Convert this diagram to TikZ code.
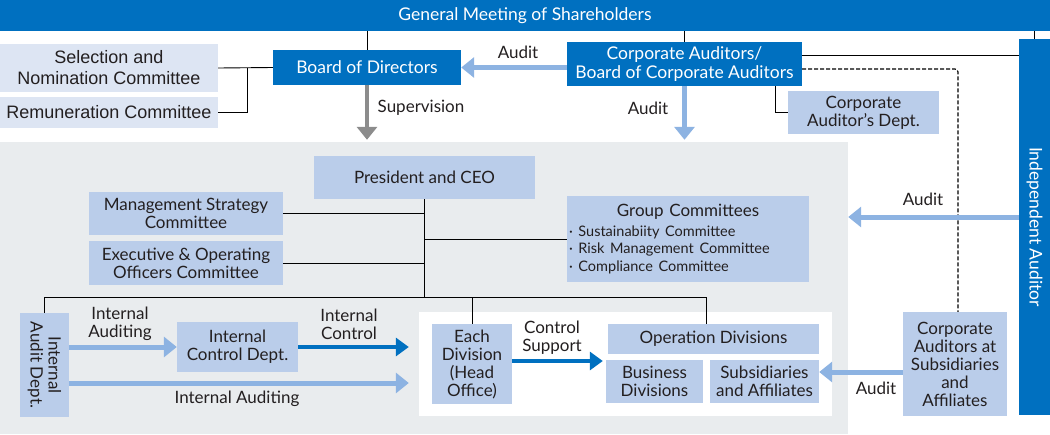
\documentclass[tikz,border=0pt]{standalone}
\usepackage{fontspec}
\setmainfont{Lato}
\newfontfamily\arialfont{Liberation Sans}
\usepackage{tikz}
\usetikzlibrary{arrows.meta}
\definecolor{darkblue}{HTML}{0070C0}
\definecolor{boxblue}{HTML}{BACDEA}
\definecolor{paleblue}{HTML}{DDE5F3}
\definecolor{arrowblue}{HTML}{8DB3E2}
\definecolor{bggray}{HTML}{E9ECEE}
\definecolor{arrowgray}{HTML}{8C8C8C}
\definecolor{textblack}{HTML}{231F20}
\begin{document}
\begin{tikzpicture}[x=1pt,y=-1pt,
  every node/.style={inner sep=0pt,font=\fontsize{17}{18}\selectfont,text=textblack,align=center},
  darkbox/.style={rectangle,fill=darkblue,text=white,font=\fontsize{17.5}{18.5}\selectfont},
  lightbox/.style={rectangle,fill=boxblue},
  palebox/.style={rectangle,fill=paleblue,font=\arialfont\fontsize{18}{21}\selectfont},
  link/.style={line width=0.9pt,black},
  auditarrow/.style={line width=5pt,arrowblue,-{Triangle[width=20pt,length=13pt]}},
  ctrlarrow/.style={line width=4pt,darkblue,-{Triangle[width=18pt,length=13pt]}},
  superarrow/.style={line width=4pt,arrowgray,-{Triangle[width=20pt,length=13pt]}}]
\useasboundingbox (0,0) rectangle (1050,434);
%
\node[fill=bggray,minimum width=848pt,minimum height=292pt] (bg) at (424,288) {};
\node[fill=white,minimum width=413pt,minimum height=104pt] (wb) at (625.5,364) {};
%
\node[darkbox,minimum width=1050pt,minimum height=31pt] (gm) at (525,15.5) {General Meeting of Shareholders};
\node[palebox,minimum width=218pt,minimum height=48pt] (snc) at (109,68) {Selection and\\Nomination Committee};
\node[palebox,minimum width=218pt,minimum height=31pt] (rc) at (109,112.5) {Remuneration Committee};
\node[darkbox,minimum width=188pt,minimum height=35pt] (bod) at (367,67.5) {Board of Directors};
\node[darkbox,minimum width=235pt,minimum height=44pt] (cab) at (684.5,64) {Corporate Auditors/\\Board of Corporate Auditors};
\node[lightbox,minimum width=151pt,minimum height=43pt] (cad) at (863.5,112.5) {Corporate\\Auditor’s Dept.};
\node[darkbox,minimum width=31pt,minimum height=376pt,
  label={[rotate=-90,text=white,font=\fontsize{17.5}{18}\selectfont]center:Independent Auditor}] (ia) at (1034.5,227) {};
%
\node[lightbox,minimum width=221pt,minimum height=43pt] (ceo) at (424.5,177.5) {President and CEO};
\node[lightbox,minimum width=194pt,minimum height=43pt] (msc) at (186,213.5) {Management Strategy\\Committee};
\node[lightbox,minimum width=194pt,minimum height=44pt] (eoc) at (186,263) {Executive \& Operating\\Officers Committee};
\node[lightbox,minimum width=242pt,minimum height=86pt,align=left,text width=238pt] (gc) at (688,239)
  {\makebox[\linewidth]{Group Committees}\\[3pt]
   {\fontsize{14.5}{17}\selectfont · Sustainabiity Committee\\
   · Risk Management Committee\\
   · Compliance Committee}};
%
\node[lightbox,minimum width=49pt,minimum height=104pt,
  label={[rotate=-90]center:Internal\\Audit Dept.}] (iad) at (44.5,365) {};
\node[lightbox,minimum width=121pt,minimum height=50pt] (icd) at (237.5,347) {Internal\\Control Dept.};
\node[lightbox,minimum width=80pt,minimum height=80pt] (ed) at (472,364) {Each\\Division\\(Head\\Office)};
\node[lightbox,minimum width=211pt,minimum height=30pt] (opd) at (713.5,339) {Operation Divisions};
\node[lightbox,minimum width=97pt,minimum height=43pt] (bd) at (654.5,381.5) {Business\\Divisions};
\node[lightbox,minimum width=109pt,minimum height=43pt] (sa) at (764.5,381.5) {Subsidiaries\\and Affiliates};
\node[lightbox,minimum width=104pt,minimum height=104pt] (casa) at (955,364) {Corporate\\Auditors at\\Subsidiaries\\and\\Affiliates};
%
\node (lauditbod) at (518,52) {Audit};
\node (lsuper) at (421,108) {Supervision};
\node (lauditceo) at (648,108) {Audit};
\node (lauditia) at (923,199) {Audit};
\node (linaud) at (120,324) {Internal\\Auditing};
\node (linctl) at (349,324) {Internal\\Control};
\node (linaudb) at (237,399) {Internal Auditing};
\node (lctlsup) at (552,338) {Control\\Support};
\node (lauditsa) at (876,388) {Audit};
%
\coordinate (jsel) at (247,68);
\coordinate (jia) at (802,55);
\coordinate (jdash) at (802,69);
\coordinate (jcad) at (775,86);
\coordinate (bus) at (0,297);
%
\draw[link] (bod.north) -- (bod.north |- gm.south);
\draw[link] (cab.north) -- (cab.north |- gm.south);
\draw[link] (ia.north) -- (ia.north |- gm.south);
\draw[link] (snc.east) -- (bod.west);
\draw[link] (rc.east) -| (jsel);
\draw[link] (jia) -- (jia -| ia.west);
\draw[link] (jcad) |- (cad.west);
\draw[link,line width=1.1pt,dash pattern=on 4pt off 2pt,rounded corners=3pt] (jdash) -| ([xshift=3pt]casa.north);
%
\draw[link] (ceo.south) -- (ceo.south |- bus);
\draw[link] (msc.east) -- (msc.east -| ceo.south);
\draw[link] (eoc.east) -- (eoc.east -| ceo.south);
\draw[link] (gc.west) -- (gc.west -| ceo.south);
\draw[link] (iad.north) |- ([xshift=-7pt]opd.north |- bus) -- ([xshift=-7pt]opd.north);
\draw[link] (ed.north) -- (ed.north |- bus);
%
\draw[auditarrow] (cab.west |- bod.east) -- (bod.east);
\draw[superarrow,shorten >=2pt] (bod.south) -- (bod.south |- bg.north);
\draw[auditarrow,shorten >=2pt] (cab.south) -- (cab.south |- bg.north);
\draw[auditarrow] ([yshift=10pt]ia.west) -- ([yshift=10pt]ia.west -| bg.east);
\draw[auditarrow] (iad.east |- icd.west) -- (icd.west);
\draw[ctrlarrow,shorten >=10pt] (icd.east) -- (icd.east -| wb.west);
\draw[auditarrow,shorten >=10pt] ([yshift=-18pt]iad.east) -- ([yshift=-18pt]iad.east -| wb.west);
\draw[ctrlarrow,shorten >=3pt] ([yshift=3pt]ed.east) -- ([yshift=3pt]ed.east -| bd.west);
\draw[auditarrow] ([yshift=-8pt]casa.west) -- ([yshift=-8pt]casa.west -| sa.east);
%
\end{tikzpicture}
\end{document}
